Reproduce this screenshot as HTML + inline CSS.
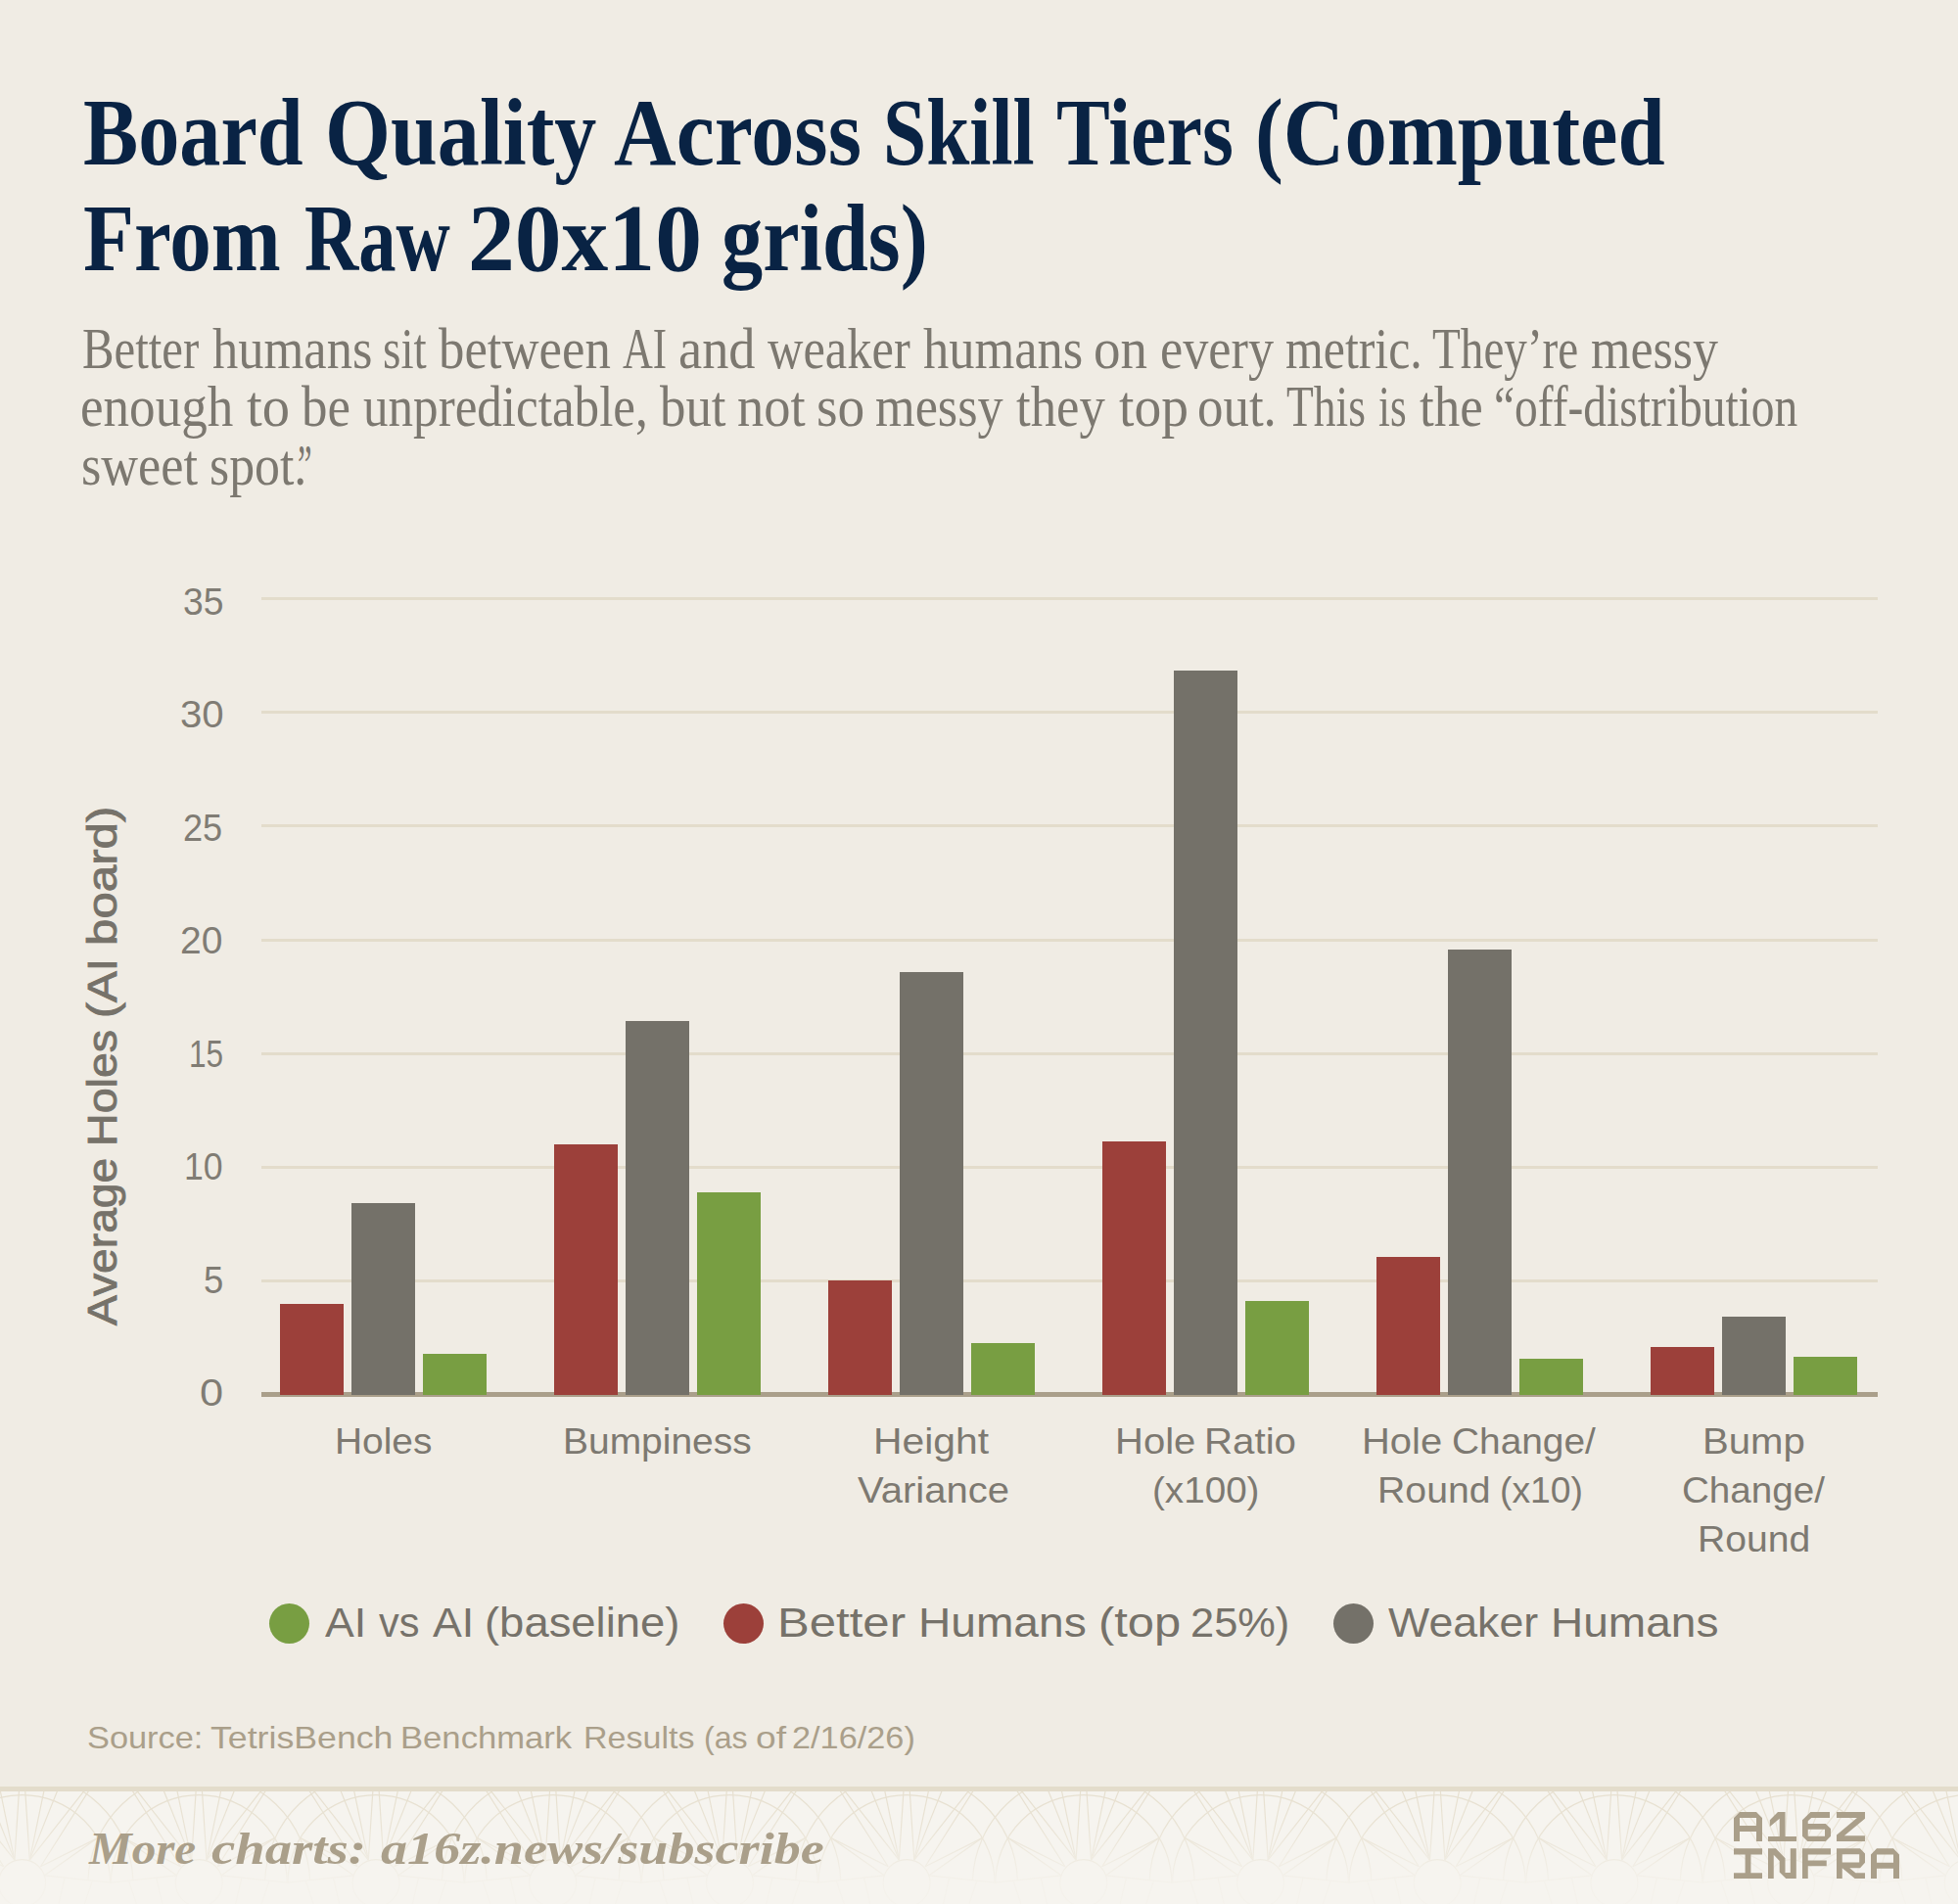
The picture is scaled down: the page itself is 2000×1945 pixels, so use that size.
<!DOCTYPE html>
<html lang="en">
<head>
<meta charset="utf-8">
<title>Board Quality Across Skill Tiers</title>
<style>
html,body{margin:0;padding:0;}
body{width:2000px;height:1945px;background:#f0ece4;position:relative;overflow:hidden;font-family:"Liberation Sans",sans-serif;}
.t{position:absolute;white-space:nowrap;transform-origin:0 50%;margin:0;padding:0;}
.line{position:absolute;left:0;width:2000px;white-space:nowrap;}
.w{position:absolute;top:0;transform-origin:0 50%;white-space:nowrap;}
.title{font-family:"Liberation Serif",serif;font-weight:bold;color:#092344;}
.sub{font-family:"Liberation Serif",serif;color:#7c7870;}
.tick{color:#807c74;}
.xl{color:#7d7971;}
.lg{color:#76726a;}
.src{color:#aa9f8a;}
.more{font-family:"Liberation Serif",serif;font-weight:bold;font-style:italic;color:#aa9f8a;}
.ytitle{position:absolute;white-space:nowrap;color:#76726a;-webkit-text-stroke:0.9px #76726a;transform-origin:0 0;transform:rotate(-90deg);}
.grid{position:absolute;left:267px;width:1651px;height:3px;background:#e3dccb;}
.axis{position:absolute;left:267px;width:1651px;top:1422px;height:5px;background:#aa9f8a;}
.bar{position:absolute;width:65px;}
.r{background:#9c403a;} .g{background:#747169;} .n{background:#789e42;}
.dot{position:absolute;width:41px;height:41px;border-radius:50%;top:1637.5px;}
.footer{position:absolute;left:0;top:1825px;width:2000px;height:120px;background:#f6f4ef;border-top:5px solid #e3dccb;box-sizing:border-box;overflow:hidden;}
</style>
</head>
<body>

<div class="line title" style="top:76.23px;font-size:98px;line-height:118px;height:118px">
<span class="w" style="left:84.94px;transform:scaleX(0.8593)">Board</span>
<span class="w" style="left:331.89px;transform:scaleX(0.8784)">Quality</span>
<span class="w" style="left:626.70px;transform:scaleX(0.8992)">Across</span>
<span class="w" style="left:901.85px;transform:scaleX(0.8105)">Skill</span>
<span class="w" style="left:1079.26px;transform:scaleX(0.8378)">Tiers</span>
<span class="w" style="left:1281.76px;transform:scaleX(0.8839)">(Computed</span>
</div>
<div class="line title" style="top:184.03px;font-size:98px;line-height:118px;height:118px">
<span class="w" style="left:84.93px;transform:scaleX(0.8689)">From</span>
<span class="w" style="left:311.42px;transform:scaleX(0.7809)">Raw</span>
<span class="w" style="left:477.80px;transform:scaleX(0.9752)">20x10</span>
<span class="w" style="left:737.38px;transform:scaleX(0.8602)">grids)</span>
</div>
<div class="line sub" style="top:319.55px;font-size:60px;line-height:72px;height:72px">
<span class="w" style="left:84.39px;transform:scaleX(0.8131)">Better</span>
<span class="w" style="left:217.20px;transform:scaleX(0.8753)">humans</span>
<span class="w" style="left:391.42px;transform:scaleX(0.7888)">sit</span>
<span class="w" style="left:448.40px;transform:scaleX(0.8795)">between</span>
<span class="w" style="left:635.90px;transform:scaleX(0.7125)">AI</span>
<span class="w" style="left:692.99px;transform:scaleX(0.9063)">and</span>
<span class="w" style="left:784.10px;transform:scaleX(0.8411)">weaker</span>
<span class="w" style="left:943.40px;transform:scaleX(0.8748)">humans</span>
<span class="w" style="left:1117.37px;transform:scaleX(0.9172)">on</span>
<span class="w" style="left:1184.86px;transform:scaleX(0.8709)">every</span>
<span class="w" style="left:1313.37px;transform:scaleX(0.8310)">metric.</span>
<span class="w" style="left:1463.21px;transform:scaleX(0.7861)">They’re</span>
<span class="w" style="left:1624.63px;transform:scaleX(0.8671)">messy</span>
</div>
<div class="line sub" style="top:379.15px;font-size:60px;line-height:72px;height:72px">
<span class="w" style="left:81.53px;transform:scaleX(0.8847)">enough</span>
<span class="w" style="left:252.10px;transform:scaleX(0.9425)">to</span>
<span class="w" style="left:308.10px;transform:scaleX(0.8818)">be</span>
<span class="w" style="left:370.80px;transform:scaleX(0.8514)">unpredictable,</span>
<span class="w" style="left:673.50px;transform:scaleX(0.8805)">but</span>
<span class="w" style="left:753.09px;transform:scaleX(0.9079)">not</span>
<span class="w" style="left:833.85px;transform:scaleX(0.9240)">so</span>
<span class="w" style="left:894.03px;transform:scaleX(0.8711)">messy</span>
<span class="w" style="left:1038.40px;transform:scaleX(0.8790)">they</span>
<span class="w" style="left:1142.50px;transform:scaleX(0.9254)">top</span>
<span class="w" style="left:1223.24px;transform:scaleX(0.8815)">out.</span>
<span class="w" style="left:1314.24px;transform:scaleX(0.7592)">This</span>
<span class="w" style="left:1407.69px;transform:scaleX(0.7141)">is</span>
<span class="w" style="left:1449.60px;transform:scaleX(0.8832)">the</span>
<span class="w" style="left:1525.62px;transform:scaleX(0.7912)">“off-distribution</span>
</div>
<div class="line sub" style="top:439.25px;font-size:60px;line-height:72px;height:72px">
<span class="w" style="left:82.76px;transform:scaleX(0.8707)">sweet</span>
<span class="w" style="left:213.57px;transform:scaleX(0.8635)">spot.</span>
<span class="w" style="left:303.91px;transform:scaleX(0.5455)">”</span>
</div>
<div class="grid" style="top:610.2px"></div>
<div class="grid" style="top:726.3px"></div>
<div class="grid" style="top:842.4px"></div>
<div class="grid" style="top:958.5px"></div>
<div class="grid" style="top:1074.6px"></div>
<div class="grid" style="top:1190.7px"></div>
<div class="grid" style="top:1306.8px"></div>
<div class="axis"></div>
<div class="line tick" style="top:590.79px;font-size:39px;line-height:47px;height:47px">
<span class="w" style="left:186.75px;transform:scaleX(0.9547)">35</span>
</div>
<div class="line tick" style="top:706.49px;font-size:39px;line-height:47px;height:47px">
<span class="w" style="left:183.57px;transform:scaleX(1.0290)">30</span>
</div>
<div class="line tick" style="top:821.99px;font-size:39px;line-height:47px;height:47px">
<span class="w" style="left:187.47px;transform:scaleX(0.9259)">25</span>
</div>
<div class="line tick" style="top:937.29px;font-size:39px;line-height:47px;height:47px">
<span class="w" style="left:184.30px;transform:scaleX(1.0002)">20</span>
</div>
<div class="line tick" style="top:1052.79px;font-size:39px;line-height:47px;height:47px">
<span class="w" style="left:192.88px;transform:scaleX(0.8086)">15</span>
</div>
<div class="line tick" style="top:1168.19px;font-size:39px;line-height:47px;height:47px">
<span class="w" style="left:188.37px;transform:scaleX(0.9142)">10</span>
</div>
<div class="line tick" style="top:1283.69px;font-size:39px;line-height:47px;height:47px">
<span class="w" style="left:207.56px;transform:scaleX(0.9350)">5</span>
</div>
<div class="line tick" style="top:1399.19px;font-size:39px;line-height:47px;height:47px">
<span class="w" style="left:204.09px;transform:scaleX(1.1100)">0</span>
</div>
<div class="ytitle" style="left:77.70px;top:1354px;font-size:43px;line-height:52px;height:52px;width:540px">
<span class="w" style="left:0.00px;transform:scaleX(1.0745)">Average</span>
<span class="w" style="left:182.75px;transform:scaleX(1.0841)">Holes</span>
<span class="w" style="left:313.78px;transform:scaleX(1.1102)">(AI</span>
<span class="w" style="left:387.81px;transform:scaleX(1.1452)">board)</span>
</div>
<div class="bar r" style="left:286px;top:1332px;height:93px"></div>
<div class="bar g" style="left:359px;top:1229px;height:196px"></div>
<div class="bar n" style="left:432px;top:1383px;height:42px"></div>
<div class="bar r" style="left:566px;top:1169px;height:256px"></div>
<div class="bar g" style="left:639px;top:1043px;height:382px"></div>
<div class="bar n" style="left:712px;top:1218px;height:207px"></div>
<div class="bar r" style="left:846px;top:1308px;height:117px"></div>
<div class="bar g" style="left:919px;top:993px;height:432px"></div>
<div class="bar n" style="left:992px;top:1372px;height:53px"></div>
<div class="bar r" style="left:1126px;top:1166px;height:259px"></div>
<div class="bar g" style="left:1199px;top:685px;height:740px"></div>
<div class="bar n" style="left:1272px;top:1329px;height:96px"></div>
<div class="bar r" style="left:1406px;top:1284px;height:141px"></div>
<div class="bar g" style="left:1479px;top:970px;height:455px"></div>
<div class="bar n" style="left:1552px;top:1388px;height:37px"></div>
<div class="bar r" style="left:1686px;top:1376px;height:49px"></div>
<div class="bar g" style="left:1759px;top:1345px;height:80px"></div>
<div class="bar n" style="left:1832px;top:1386px;height:39px"></div>
<div class="line xl" style="top:1450.88px;font-size:37px;line-height:44px;height:44px">
<span class="w" style="left:341.55px;transform:scaleX(1.0505)">Holes</span>
</div>
<div class="line xl" style="top:1450.88px;font-size:37px;line-height:44px;height:44px">
<span class="w" style="left:575.14px;transform:scaleX(1.0527)">Bumpiness</span>
</div>
<div class="line xl" style="top:1450.88px;font-size:37px;line-height:44px;height:44px">
<span class="w" style="left:891.99px;transform:scaleX(1.1034)">Height</span>
</div>
<div class="line xl" style="top:1500.88px;font-size:37px;line-height:44px;height:44px">
<span class="w" style="left:875.70px;transform:scaleX(1.0811)">Variance</span>
</div>
<div class="line xl" style="top:1450.88px;font-size:37px;line-height:44px;height:44px">
<span class="w" style="left:1138.85px;transform:scaleX(1.0822)">Hole</span>
<span class="w" style="left:1230.04px;transform:scaleX(1.0882)">Ratio</span>
</div>
<div class="line xl" style="top:1500.88px;font-size:37px;line-height:44px;height:44px">
<span class="w" style="left:1176.71px;transform:scaleX(1.0438)">(x100)</span>
</div>
<div class="line xl" style="top:1450.88px;font-size:37px;line-height:44px;height:44px">
<span class="w" style="left:1391.46px;transform:scaleX(1.0794)">Hole</span>
<span class="w" style="left:1483.15px;transform:scaleX(1.0494)">Change/</span>
</div>
<div class="line xl" style="top:1500.88px;font-size:37px;line-height:44px;height:44px">
<span class="w" style="left:1406.52px;transform:scaleX(1.0598)">Round</span>
<span class="w" style="left:1531.78px;transform:scaleX(1.0077)">(x10)</span>
</div>
<div class="line xl" style="top:1450.88px;font-size:37px;line-height:44px;height:44px">
<span class="w" style="left:1739.25px;transform:scaleX(1.0840)">Bump</span>
</div>
<div class="line xl" style="top:1500.88px;font-size:37px;line-height:44px;height:44px">
<span class="w" style="left:1717.56px;transform:scaleX(1.0429)">Change/</span>
</div>
<div class="line xl" style="top:1550.88px;font-size:37px;line-height:44px;height:44px">
<span class="w" style="left:1733.83px;transform:scaleX(1.0569)">Round</span>
</div>
<div class="dot n" style="left:275px"></div>
<div class="dot r" style="left:738.6px"></div>
<div class="dot g" style="left:1361.5px"></div>
<div class="line lg" style="top:1633.45px;font-size:42px;line-height:50px;height:50px">
<span class="w" style="left:332.00px;transform:scaleX(1.0635)">AI</span>
<span class="w" style="left:386.90px;transform:scaleX(0.9854)">vs</span>
<span class="w" style="left:441.80px;transform:scaleX(1.0635)">AI</span>
<span class="w" style="left:494.84px;transform:scaleX(1.0812)">(baseline)</span>
</div>
<div class="line lg" style="top:1633.45px;font-size:42px;line-height:50px;height:50px">
<span class="w" style="left:793.69px;transform:scaleX(1.1690)">Better</span>
<span class="w" style="left:938.01px;transform:scaleX(1.0978)">Humans</span>
<span class="w" style="left:1121.57px;transform:scaleX(1.1635)">(top</span>
<span class="w" style="left:1215.93px;transform:scaleX(1.0334)">25%)</span>
</div>
<div class="line lg" style="top:1633.45px;font-size:42px;line-height:50px;height:50px">
<span class="w" style="left:1418.00px;transform:scaleX(1.0642)">Weaker</span>
<span class="w" style="left:1584.21px;transform:scaleX(1.0959)">Humans</span>
</div>
<div class="line src" style="top:1756.41px;font-size:32px;line-height:38px;height:38px">
<span class="w" style="left:88.83px;transform:scaleX(1.0734)">Source:</span>
<span class="w" style="left:215.00px;transform:scaleX(1.1149)">TetrisBench</span>
<span class="w" style="left:409.24px;transform:scaleX(1.0824)">Benchmark</span>
<span class="w" style="left:595.67px;transform:scaleX(1.0636)">Results</span>
<span class="w" style="left:718.60px;transform:scaleX(1.0035)">(as</span>
<span class="w" style="left:771.54px;transform:scaleX(1.1591)">of</span>
<span class="w" style="left:809.23px;transform:scaleX(1.0717)">2/16/26)</span>
</div>
<div class="footer">
<svg style="position:absolute;left:0;top:0" width="2000" height="115" viewBox="0 0 2000 115"><defs><linearGradient id="fade" x1="0" y1="0" x2="0" y2="1"><stop offset="0" stop-color="#f6f4ef" stop-opacity="0"/><stop offset="0.3" stop-color="#f6f4ef" stop-opacity="0.15"/><stop offset="0.8" stop-color="#f6f4ef" stop-opacity="0.85"/><stop offset="1" stop-color="#f6f4ef" stop-opacity="0.9"/></linearGradient></defs><g fill="none" stroke="#e7e0d0" stroke-width="1.2"><g transform="translate(22.6 93.6)"><circle r="24"/><path d="M-90 0A90 90 0 0 1 90 0"/><path d="M-113.3 -3.5A113.4 113.4 0 0 1 113.3 -3.5"/><path d="M-7.7 -23.5L-3.1 -95M7.7 -23.5L3.1 -95"/><path d="M-7.7 -23.5L-22.5 -95M7.7 -23.5L22.5 -95"/><path d="M-7.7 -23.5L-36.3 -95M7.7 -23.5L36.3 -95"/><path d="M-7.7 -23.5L-64 -95M7.7 -23.5L64 -95"/><path d="M-18.9 -16.9L-68.5 -95M18.9 -16.9L68.5 -95"/><path d="M-18.9 -16.9L-77.1 -46M18.9 -16.9L77.1 -46"/><path d="M-22.5 -7.7L-77.1 -46M22.5 -7.7L77.1 -46"/><path d="M-22.5 -7.7L-90.35 -0.5M22.5 -7.7L90.35 -0.5"/><path d="M-71.5 -1.5L-63.8 21.5M71.5 -1.5L63.8 21.5"/><path d="M-43.4 -4.6L-37.3 21.5M43.4 -4.6L37.3 21.5"/></g><g transform="translate(203.3 93.6)"><circle r="24"/><path d="M-90 0A90 90 0 0 1 90 0"/><path d="M-113.3 -3.5A113.4 113.4 0 0 1 113.3 -3.5"/><path d="M-7.7 -23.5L-3.1 -95M7.7 -23.5L3.1 -95"/><path d="M-7.7 -23.5L-22.5 -95M7.7 -23.5L22.5 -95"/><path d="M-7.7 -23.5L-36.3 -95M7.7 -23.5L36.3 -95"/><path d="M-7.7 -23.5L-64 -95M7.7 -23.5L64 -95"/><path d="M-18.9 -16.9L-68.5 -95M18.9 -16.9L68.5 -95"/><path d="M-18.9 -16.9L-77.1 -46M18.9 -16.9L77.1 -46"/><path d="M-22.5 -7.7L-77.1 -46M22.5 -7.7L77.1 -46"/><path d="M-22.5 -7.7L-90.35 -0.5M22.5 -7.7L90.35 -0.5"/><path d="M-71.5 -1.5L-63.8 21.5M71.5 -1.5L63.8 21.5"/><path d="M-43.4 -4.6L-37.3 21.5M43.4 -4.6L37.3 21.5"/></g><g transform="translate(384.0 93.6)"><circle r="24"/><path d="M-90 0A90 90 0 0 1 90 0"/><path d="M-113.3 -3.5A113.4 113.4 0 0 1 113.3 -3.5"/><path d="M-7.7 -23.5L-3.1 -95M7.7 -23.5L3.1 -95"/><path d="M-7.7 -23.5L-22.5 -95M7.7 -23.5L22.5 -95"/><path d="M-7.7 -23.5L-36.3 -95M7.7 -23.5L36.3 -95"/><path d="M-7.7 -23.5L-64 -95M7.7 -23.5L64 -95"/><path d="M-18.9 -16.9L-68.5 -95M18.9 -16.9L68.5 -95"/><path d="M-18.9 -16.9L-77.1 -46M18.9 -16.9L77.1 -46"/><path d="M-22.5 -7.7L-77.1 -46M22.5 -7.7L77.1 -46"/><path d="M-22.5 -7.7L-90.35 -0.5M22.5 -7.7L90.35 -0.5"/><path d="M-71.5 -1.5L-63.8 21.5M71.5 -1.5L63.8 21.5"/><path d="M-43.4 -4.6L-37.3 21.5M43.4 -4.6L37.3 21.5"/></g><g transform="translate(564.7 93.6)"><circle r="24"/><path d="M-90 0A90 90 0 0 1 90 0"/><path d="M-113.3 -3.5A113.4 113.4 0 0 1 113.3 -3.5"/><path d="M-7.7 -23.5L-3.1 -95M7.7 -23.5L3.1 -95"/><path d="M-7.7 -23.5L-22.5 -95M7.7 -23.5L22.5 -95"/><path d="M-7.7 -23.5L-36.3 -95M7.7 -23.5L36.3 -95"/><path d="M-7.7 -23.5L-64 -95M7.7 -23.5L64 -95"/><path d="M-18.9 -16.9L-68.5 -95M18.9 -16.9L68.5 -95"/><path d="M-18.9 -16.9L-77.1 -46M18.9 -16.9L77.1 -46"/><path d="M-22.5 -7.7L-77.1 -46M22.5 -7.7L77.1 -46"/><path d="M-22.5 -7.7L-90.35 -0.5M22.5 -7.7L90.35 -0.5"/><path d="M-71.5 -1.5L-63.8 21.5M71.5 -1.5L63.8 21.5"/><path d="M-43.4 -4.6L-37.3 21.5M43.4 -4.6L37.3 21.5"/></g><g transform="translate(745.4 93.6)"><circle r="24"/><path d="M-90 0A90 90 0 0 1 90 0"/><path d="M-113.3 -3.5A113.4 113.4 0 0 1 113.3 -3.5"/><path d="M-7.7 -23.5L-3.1 -95M7.7 -23.5L3.1 -95"/><path d="M-7.7 -23.5L-22.5 -95M7.7 -23.5L22.5 -95"/><path d="M-7.7 -23.5L-36.3 -95M7.7 -23.5L36.3 -95"/><path d="M-7.7 -23.5L-64 -95M7.7 -23.5L64 -95"/><path d="M-18.9 -16.9L-68.5 -95M18.9 -16.9L68.5 -95"/><path d="M-18.9 -16.9L-77.1 -46M18.9 -16.9L77.1 -46"/><path d="M-22.5 -7.7L-77.1 -46M22.5 -7.7L77.1 -46"/><path d="M-22.5 -7.7L-90.35 -0.5M22.5 -7.7L90.35 -0.5"/><path d="M-71.5 -1.5L-63.8 21.5M71.5 -1.5L63.8 21.5"/><path d="M-43.4 -4.6L-37.3 21.5M43.4 -4.6L37.3 21.5"/></g><g transform="translate(926.1 93.6)"><circle r="24"/><path d="M-90 0A90 90 0 0 1 90 0"/><path d="M-113.3 -3.5A113.4 113.4 0 0 1 113.3 -3.5"/><path d="M-7.7 -23.5L-3.1 -95M7.7 -23.5L3.1 -95"/><path d="M-7.7 -23.5L-22.5 -95M7.7 -23.5L22.5 -95"/><path d="M-7.7 -23.5L-36.3 -95M7.7 -23.5L36.3 -95"/><path d="M-7.7 -23.5L-64 -95M7.7 -23.5L64 -95"/><path d="M-18.9 -16.9L-68.5 -95M18.9 -16.9L68.5 -95"/><path d="M-18.9 -16.9L-77.1 -46M18.9 -16.9L77.1 -46"/><path d="M-22.5 -7.7L-77.1 -46M22.5 -7.7L77.1 -46"/><path d="M-22.5 -7.7L-90.35 -0.5M22.5 -7.7L90.35 -0.5"/><path d="M-71.5 -1.5L-63.8 21.5M71.5 -1.5L63.8 21.5"/><path d="M-43.4 -4.6L-37.3 21.5M43.4 -4.6L37.3 21.5"/></g><g transform="translate(1106.8 93.6)"><circle r="24"/><path d="M-90 0A90 90 0 0 1 90 0"/><path d="M-113.3 -3.5A113.4 113.4 0 0 1 113.3 -3.5"/><path d="M-7.7 -23.5L-3.1 -95M7.7 -23.5L3.1 -95"/><path d="M-7.7 -23.5L-22.5 -95M7.7 -23.5L22.5 -95"/><path d="M-7.7 -23.5L-36.3 -95M7.7 -23.5L36.3 -95"/><path d="M-7.7 -23.5L-64 -95M7.7 -23.5L64 -95"/><path d="M-18.9 -16.9L-68.5 -95M18.9 -16.9L68.5 -95"/><path d="M-18.9 -16.9L-77.1 -46M18.9 -16.9L77.1 -46"/><path d="M-22.5 -7.7L-77.1 -46M22.5 -7.7L77.1 -46"/><path d="M-22.5 -7.7L-90.35 -0.5M22.5 -7.7L90.35 -0.5"/><path d="M-71.5 -1.5L-63.8 21.5M71.5 -1.5L63.8 21.5"/><path d="M-43.4 -4.6L-37.3 21.5M43.4 -4.6L37.3 21.5"/></g><g transform="translate(1287.5 93.6)"><circle r="24"/><path d="M-90 0A90 90 0 0 1 90 0"/><path d="M-113.3 -3.5A113.4 113.4 0 0 1 113.3 -3.5"/><path d="M-7.7 -23.5L-3.1 -95M7.7 -23.5L3.1 -95"/><path d="M-7.7 -23.5L-22.5 -95M7.7 -23.5L22.5 -95"/><path d="M-7.7 -23.5L-36.3 -95M7.7 -23.5L36.3 -95"/><path d="M-7.7 -23.5L-64 -95M7.7 -23.5L64 -95"/><path d="M-18.9 -16.9L-68.5 -95M18.9 -16.9L68.5 -95"/><path d="M-18.9 -16.9L-77.1 -46M18.9 -16.9L77.1 -46"/><path d="M-22.5 -7.7L-77.1 -46M22.5 -7.7L77.1 -46"/><path d="M-22.5 -7.7L-90.35 -0.5M22.5 -7.7L90.35 -0.5"/><path d="M-71.5 -1.5L-63.8 21.5M71.5 -1.5L63.8 21.5"/><path d="M-43.4 -4.6L-37.3 21.5M43.4 -4.6L37.3 21.5"/></g><g transform="translate(1468.2 93.6)"><circle r="24"/><path d="M-90 0A90 90 0 0 1 90 0"/><path d="M-113.3 -3.5A113.4 113.4 0 0 1 113.3 -3.5"/><path d="M-7.7 -23.5L-3.1 -95M7.7 -23.5L3.1 -95"/><path d="M-7.7 -23.5L-22.5 -95M7.7 -23.5L22.5 -95"/><path d="M-7.7 -23.5L-36.3 -95M7.7 -23.5L36.3 -95"/><path d="M-7.7 -23.5L-64 -95M7.7 -23.5L64 -95"/><path d="M-18.9 -16.9L-68.5 -95M18.9 -16.9L68.5 -95"/><path d="M-18.9 -16.9L-77.1 -46M18.9 -16.9L77.1 -46"/><path d="M-22.5 -7.7L-77.1 -46M22.5 -7.7L77.1 -46"/><path d="M-22.5 -7.7L-90.35 -0.5M22.5 -7.7L90.35 -0.5"/><path d="M-71.5 -1.5L-63.8 21.5M71.5 -1.5L63.8 21.5"/><path d="M-43.4 -4.6L-37.3 21.5M43.4 -4.6L37.3 21.5"/></g><g transform="translate(1648.9 93.6)"><circle r="24"/><path d="M-90 0A90 90 0 0 1 90 0"/><path d="M-113.3 -3.5A113.4 113.4 0 0 1 113.3 -3.5"/><path d="M-7.7 -23.5L-3.1 -95M7.7 -23.5L3.1 -95"/><path d="M-7.7 -23.5L-22.5 -95M7.7 -23.5L22.5 -95"/><path d="M-7.7 -23.5L-36.3 -95M7.7 -23.5L36.3 -95"/><path d="M-7.7 -23.5L-64 -95M7.7 -23.5L64 -95"/><path d="M-18.9 -16.9L-68.5 -95M18.9 -16.9L68.5 -95"/><path d="M-18.9 -16.9L-77.1 -46M18.9 -16.9L77.1 -46"/><path d="M-22.5 -7.7L-77.1 -46M22.5 -7.7L77.1 -46"/><path d="M-22.5 -7.7L-90.35 -0.5M22.5 -7.7L90.35 -0.5"/><path d="M-71.5 -1.5L-63.8 21.5M71.5 -1.5L63.8 21.5"/><path d="M-43.4 -4.6L-37.3 21.5M43.4 -4.6L37.3 21.5"/></g><g transform="translate(1829.6 93.6)"><circle r="24"/><path d="M-90 0A90 90 0 0 1 90 0"/><path d="M-113.3 -3.5A113.4 113.4 0 0 1 113.3 -3.5"/><path d="M-7.7 -23.5L-3.1 -95M7.7 -23.5L3.1 -95"/><path d="M-7.7 -23.5L-22.5 -95M7.7 -23.5L22.5 -95"/><path d="M-7.7 -23.5L-36.3 -95M7.7 -23.5L36.3 -95"/><path d="M-7.7 -23.5L-64 -95M7.7 -23.5L64 -95"/><path d="M-18.9 -16.9L-68.5 -95M18.9 -16.9L68.5 -95"/><path d="M-18.9 -16.9L-77.1 -46M18.9 -16.9L77.1 -46"/><path d="M-22.5 -7.7L-77.1 -46M22.5 -7.7L77.1 -46"/><path d="M-22.5 -7.7L-90.35 -0.5M22.5 -7.7L90.35 -0.5"/><path d="M-71.5 -1.5L-63.8 21.5M71.5 -1.5L63.8 21.5"/><path d="M-43.4 -4.6L-37.3 21.5M43.4 -4.6L37.3 21.5"/></g><g transform="translate(2010.3 93.6)"><circle r="24"/><path d="M-90 0A90 90 0 0 1 90 0"/><path d="M-113.3 -3.5A113.4 113.4 0 0 1 113.3 -3.5"/><path d="M-7.7 -23.5L-3.1 -95M7.7 -23.5L3.1 -95"/><path d="M-7.7 -23.5L-22.5 -95M7.7 -23.5L22.5 -95"/><path d="M-7.7 -23.5L-36.3 -95M7.7 -23.5L36.3 -95"/><path d="M-7.7 -23.5L-64 -95M7.7 -23.5L64 -95"/><path d="M-18.9 -16.9L-68.5 -95M18.9 -16.9L68.5 -95"/><path d="M-18.9 -16.9L-77.1 -46M18.9 -16.9L77.1 -46"/><path d="M-22.5 -7.7L-77.1 -46M22.5 -7.7L77.1 -46"/><path d="M-22.5 -7.7L-90.35 -0.5M22.5 -7.7L90.35 -0.5"/><path d="M-71.5 -1.5L-63.8 21.5M71.5 -1.5L63.8 21.5"/><path d="M-43.4 -4.6L-37.3 21.5M43.4 -4.6L37.3 21.5"/></g></g><rect width="2000" height="115" fill="url(#fade)"/></svg>
</div>
<div class="line more" style="top:1861.38px;font-size:46px;line-height:55px;height:55px">
<span class="w" style="left:91.47px;transform:scaleX(1.0681)">More</span>
<span class="w" style="left:216.10px;transform:scaleX(1.1885)">charts:</span>
<span class="w" style="left:388.70px;transform:scaleX(1.1771)">a16z.news/subscribe</span>
</div>
<svg style="position:absolute;left:1771px;top:1851px" width="170" height="70" viewBox="0 0 170 70" fill="#aa9f8a" fill-rule="evenodd"><path transform="translate(0,0)" d="M6 0H23L29 6V30H23V20H6V30H0V6Z M6 6V14H23V6Z"/><path transform="translate(35,0)" d="M10 0H17.5V25H29V30H0V25H11.7V6.7L1.8 15.1V8.2Z"/><path transform="translate(70,0)" d="M8.4 0H28V5.9H9.2L5.75 9.3V12H23.75L29 17V24.7L23.75 30H5.4L0 24.7V8.2Z M5.75 17.8V24.7H23V17.8Z"/><path transform="translate(105,0)" d="M0 0H29V6.7L7.9 24.3H29V30H0V23.5L20.9 5.9H0Z"/><path transform="translate(0,37.3) scale(1,1.025)" d="M0 0H29V6H17.4V24.4H29V30H0V24.4H11.6V6H0Z"/><path transform="translate(35,37.3) scale(1,1.025)" d="M0 0H7.9L17.5 9.7V24.2H22.8V0H28.8V30H18.2L11.7 23.7V12.3L5.75 6.3V30H0Z"/><path transform="translate(70,37.3) scale(1,1.025)" d="M0 0H29V6H5.75V11.9H24.75V17.4H5.75V30H0Z"/><path transform="translate(105,37.3) scale(1,1.025)" d="M0 0H24L29 5.1V14L24 19.5H13.3L19.4 24.4H29V30H18.6L5.75 19.5V30H0Z M5.75 5.9V13.9H23.2V5.9Z"/><path transform="translate(140,37.3) scale(1,1.025)" d="M6 0H23L29 6V30H23V20H6V30H0V6Z M6 6V14H23V6Z"/></svg>
</body>
</html>
